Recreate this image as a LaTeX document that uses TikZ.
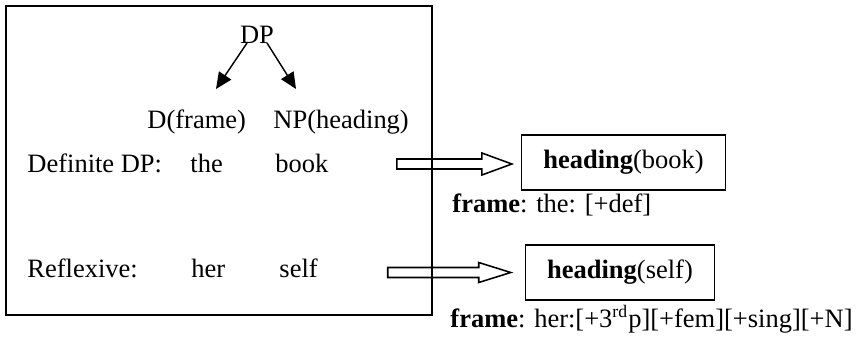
\documentclass[tikz,border=0pt]{standalone}
\usepackage{fontspec}
\setmainfont{Liberation Serif}
\usepackage{tikz}
\usetikzlibrary{arrows.meta,calc,positioning}

\begin{document}
\begin{tikzpicture}[x=0.453pt,y=-0.453pt,font=\fontsize{12}{14}\selectfont,
  word/.style={inner sep=0pt,anchor=base west},
  treearr/.style={-{Triangle[length=7.4pt,width=6.6pt]},line width=0.65pt},
  headbox/.style={draw,line width=0.7pt,inner xsep=9.8pt,minimum height=25pt},
  blockarr/.style={line width=0.7pt}]
  \useasboundingbox (0,0) rectangle (856,336);
  \draw[line width=0.9pt] (6,6) rectangle (432,315);
  % tree
  \node[inner sep=0pt,anchor=base] (dp) at (257,43) {DP};
  \coordinate (lt) at (216,89);
  \coordinate (rt) at (296,89);
  \draw[treearr] ($(dp.base)+(-10,0)$) -- (lt);
  \draw[treearr] ($(dp.base)+(10,0)$) -- (rt);
  \node[word] (dfr) at (147,128) {D(frame)};
  \node[word] (nph) at (273,128) {NP(heading)};
  % rows
  \node[word] (def) at (27,172) {Definite DP:};
  \node[word] (the) at (190,172) {the};
  \node[word] (book) at (275,172) {book};
  \node[word] (refl) at (27,277) {Reflexive:};
  \node[word] (her) at (191,277) {her};
  \node[word] (self) at (279,277) {self};
  % results
  \node[headbox] (hbook) at (623.5,162.5) {\textbf{heading}(book)};
  \node[headbox] (hself) at (620,272.5) {\textbf{heading}(self)};
  \node[word] (fthe) at (452,212) {\textbf{frame}: the: [+def]};
  \node[word] (fher) at (450,327) {\textbf{frame}: her:[+3\textsuperscript{rd}p][+fem][+sing][+N]};
  % block arrows
  \coordinate (a1) at ($(hbook.west)+(-124,1.5)$);
  \draw[blockarr] (a1) ++(0,-5) -- ++(85,0) -- ++(0,-6) -- ++(30,11) -- ++(-30,11) -- ++(0,-6) -- ++(-85,0) -- cycle;
  \coordinate (a2) at ($(hself.west)+(-137,0)$);
  \draw[blockarr] (a2) ++(0,-5) -- ++(91,0) -- ++(0,-5) -- ++(32,10) -- ++(-32,10) -- ++(0,-5) -- ++(-91,0) -- cycle;
\end{tikzpicture}
\end{document}
